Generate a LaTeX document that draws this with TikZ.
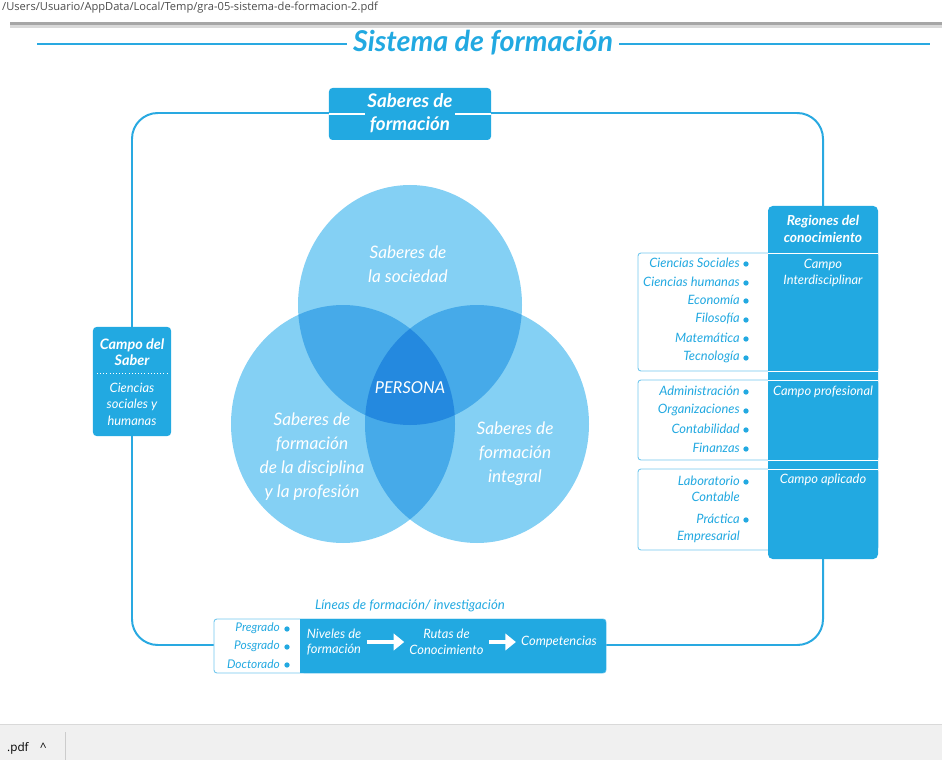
\documentclass[tikz,border=0pt]{standalone}
\usepackage{fontspec}
\setmainfont{Lato}
\newfontfamily\chromefont{Open Sans}
\usetikzlibrary{positioning,arrows.meta}
\definecolor{sfblue}{HTML}{22A9E1}
\definecolor{sfline}{HTML}{29A9E1}
\definecolor{sfoutline}{HTML}{74C8EE}
\definecolor{sflight}{HTML}{84D0F4}
\definecolor{sfmid}{HTML}{46AAE9}
\definecolor{sfdark}{HTML}{2489DF}
\definecolor{chrome}{HTML}{F0F0F0}

\begin{document}
\begin{tikzpicture}[x=0.03cm, y=-0.03cm,
    frame/.style={draw=sfline, line width=1.7pt, rounded corners=22pt},
    bluebox/.style={fill=sfblue, rounded corners=3pt, inner sep=0pt},
    group/.style={draw=sfoutline, fill=white, line width=0.8pt, rounded corners=2.5pt},
    item/.style={anchor=east, text=sfblue, inner sep=0pt, font=\fontsize{11}{12}\selectfont\itshape},
    point/.style={circle, fill=sfblue, minimum size=4.5pt, inner sep=0pt},
    vtext/.style={text=white, align=center, font=\fontsize{14.7}{20.5}\selectfont\itshape},
    wtext/.style={text=white, align=center, font=\fontsize{11}{13.5}\selectfont\itshape},
    flow/.style={draw=white, line width=3.2pt, shorten <=1pt, shorten >=1pt, -{Triangle[length=9pt,width=14pt]}},
    node distance = 3.375cm]
  \useasboundingbox (0,0) rectangle (942,760);

  % window chrome
  \node[anchor=west, text=black!70, font=\chromefont\fontsize{9.5}{11}\selectfont, inner sep=0pt] (path) at (2,8)
    {/Users/Usuario/AppData/Local/Temp/gra-05-sistema-de-formacion-2.pdf};
  \fill[black!35] (10,22) rectangle (942,25);
  \fill[black!15] (10,25) rectangle (942,28);
  \fill[chrome] (0,724) rectangle (942,760);
  \draw[black!15] (0,724) -- (942,724);
  \draw[black!20] (65,732) -- (65,760);
  \node[anchor=west, font=\chromefont\fontsize{10}{12}\selectfont, inner sep=0pt] (pdf) at (7,748) {.pdf};
  \node[anchor=west, font=\chromefont\fontsize{10}{12}\selectfont, inner sep=0pt] (caret) at (40,747) {\^{}};

  % title
  \node[text=sfblue, font=\fontsize{24.5}{27}\selectfont\bfseries\itshape, inner sep=5pt] (title) at (483,43) {Sistema de formación};
  \coordinate (tl) at (37,44);
  \coordinate (tr) at (930,44);
  \draw[sfline, line width=1.5pt] (tl) -- (title.west |- tl);
  \draw[sfline, line width=1.5pt] (title.east |- tr) -- (tr);

  % outer frame
  \draw[frame] (132,113) rectangle (823,645);

  % venn
  \fill[sflight] (410,305) ellipse [x radius=112, y radius=120];
  \fill[sflight] (343,424) ellipse [x radius=112, y radius=119];
  \fill[sflight] (477,424) ellipse [x radius=112, y radius=119];
  \begin{scope}
    \clip (410,305) ellipse [x radius=112, y radius=120];
    \fill[sfmid] (343,424) ellipse [x radius=112, y radius=119];
    \fill[sfmid] (477,424) ellipse [x radius=112, y radius=119];
  \end{scope}
  \begin{scope}
    \clip (343,424) ellipse [x radius=112, y radius=119];
    \fill[sfmid] (477,424) ellipse [x radius=112, y radius=119];
  \end{scope}
  \begin{scope}
    \clip (410,305) ellipse [x radius=112, y radius=120];
    \clip (343,424) ellipse [x radius=112, y radius=119];
    \fill[sfdark] (477,424) ellipse [x radius=112, y radius=119];
  \end{scope}
  \node[vtext] (sociedad)   at (408,264) {Saberes de\\la sociedad};
  \node[vtext] (disciplina) at (312,457) {Saberes de\\formación\\de la disciplina\\y la profesión};
  \node[vtext] (integral)   at (515,454) {Saberes de\\formación\\integral};
  \node[vtext, font=\fontsize{14}{16}\selectfont\itshape] (persona) at (410,388) {PERSONA};

  % saberes de formacion
  \node[bluebox, minimum width=4.86cm, minimum height=1.56cm] (saberes) at (410,114) {};
  \node[text=white, align=center, font=\fontsize{16}{20}\selectfont\bfseries\itshape] (saberestxt) at (410,113) {Saberes de\\formación};
  \draw[white, line width=1pt] (saberes.west) -- ++(36,0);
  \draw[white, line width=1pt] (saberes.east) -- ++(-36,0);

  % campo del saber
  \node[bluebox, minimum width=2.34cm, minimum height=3.27cm] (saber) at (132,381.5) {};
  \node[text=white, align=center, font=\fontsize{12.3}{14}\selectfont\bfseries\itshape] (sabertit) at (132,352) {Campo del\\Saber};
  \draw[white, dotted, line width=0.7pt] (97,373) -- (168,373);
  \node[wtext, font=\fontsize{11}{14}\selectfont\itshape] (sabertxt) at (132,404) {Ciencias\\sociales y\\humanas};

  % regiones del conocimiento
  \node[group, minimum width=7.2cm, minimum height=3.54cm] (g1) at (758,312) {};
  \node[group, minimum width=7.2cm, minimum height=2.4cm]  (g2) at (758,420) {};
  \node[group, minimum width=7.2cm, minimum height=2.43cm] (g3) at (758,509.5) {};
  \node[bluebox, rounded corners=4pt, minimum width=3.3cm, minimum height=10.59cm] (regiones) at (823,382.5) {};
  \draw[white, line width=0.8pt] (768,253) -- (878,253);
  \draw[white, line width=0.8pt] (768,371) -- (878,371);
  \draw[white, line width=0.8pt] (768,380) -- (878,380);
  \draw[white, line width=0.8pt] (768,460) -- (878,460);
  \draw[white, line width=0.8pt] (768,469) -- (878,469);
  \node[text=white, align=center, font=\fontsize{11.8}{14.5}\selectfont\bfseries\itshape] (regtit) at (823,229) {Regiones del\\conocimiento};
  \node[wtext] (interdis) at (823,273)   {Campo\\Interdisciplinar};
  \node[wtext] (profes)   at (823,392)   {Campo profesional};
  \node[wtext] (aplic)    at (823,480)   {Campo aplicado};

  \node[item] (sociales)  at (740,263) {Ciencias Sociales};   \node[point] (b1)  at (746,264) {};
  \node[item] (humanas)   at (740,282) {Ciencias humanas};    \node[point] (b2)  at (746,283) {};
  \node[item] (economia)  at (740,300) {Economía};            \node[point] (b3)  at (746,301) {};
  \node[item] (filosofia) at (740,319) {Filosofía};           \node[point] (b4)  at (746,320) {};
  \node[item] (matem)     at (740,338) {Matemática};          \node[point] (b5)  at (746,339) {};
  \node[item] (tecno)     at (740,357) {Tecnología};          \node[point] (b6)  at (746,358) {};
  \node[item] (admin)     at (740,391) {Administración};      \node[point] (b7)  at (746,392) {};
  \node[item] (organiz)   at (740,410) {Organizaciones};      \node[point] (b8)  at (746,411) {};
  \node[item] (contab)    at (740,429) {Contabilidad};        \node[point] (b9)  at (746,430) {};
  \node[item] (finanzas)  at (740,448) {Finanzas};            \node[point] (b10) at (746,449) {};
  \node[item] (lab)       at (740,481) {Laboratorio};         \node[point] (b11) at (746,482) {};
  \node[item] (contable)  at (740,497) {Contable};
  \node[item] (practica)  at (740,519) {Práctica};            \node[point] (b12) at (746,520) {};
  \node[item] (empres)    at (740,537) {Empresarial};

  % lineas de formacion
  \node[text=sfblue, font=\fontsize{11.3}{12}\selectfont\itshape] (lineastit) at (410,606) {Líneas de formación/ investigación};
  \node[group, minimum width=11.76cm, minimum height=1.62cm] (lineas) at (410,646) {};
  \fill[sfblue, rounded corners=3pt] (300,619) rectangle (606,673);
  \fill[sfblue] (300,619) rectangle (306,673);
  \node[item, font=\fontsize{10.2}{12}\selectfont\itshape] (pregrado)  at (280,628) {Pregrado};   \node[point] (b13) at (287,629) {};
  \node[item, font=\fontsize{10.2}{12}\selectfont\itshape] (posgrado)  at (280,646) {Posgrado};   \node[point] (b14) at (287,647) {};
  \node[item, font=\fontsize{10.2}{12}\selectfont\itshape] (doctorado) at (280,664) {Doctorado};  \node[point] (b15) at (287,665) {};
  \node[wtext] (niveles) at (334,642) {Niveles de\\formación};
  \node[wtext] (rutas) [right of = niveles] {Rutas de\\Conocimiento};
  \node[wtext] (compet) [right of = rutas] {Competencias};
  \path
    (niveles) edge[flow] (rutas)
    (rutas)   edge[flow] (compet)
    ;
\end{tikzpicture}
\end{document}
